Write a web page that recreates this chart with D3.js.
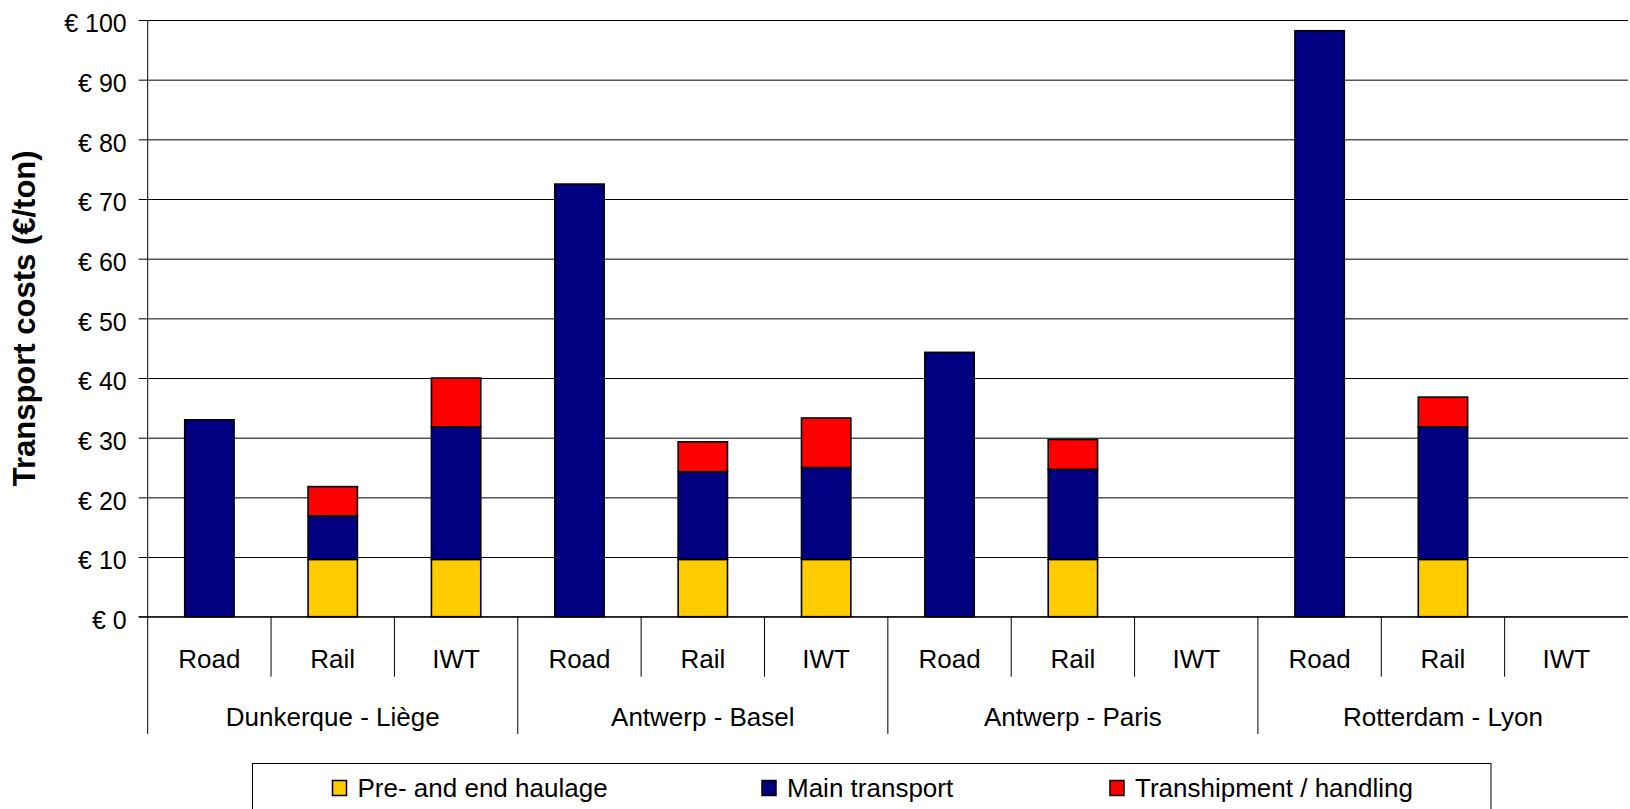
<!DOCTYPE html>
<html>
<head>
<meta charset="utf-8">
<script src="https://cdn.jsdelivr.net/npm/d3@7"></script>
<style>
  body { margin: 0; background: #fff; }
  svg { display: block; font-family: "Liberation Sans", Arial, sans-serif; }
</style>
</head>
<body>
<svg id="chart" width="1630" height="809"></svg>
<script>
// data
var groups = ["Dunkerque - Liège", "Antwerp - Basel", "Antwerp - Paris", "Rotterdam - Lyon"];
var modes = ["Road", "Rail", "IWT"];
var seriesNames = ["Pre- and end haulage", "Main transport", "Transhipment / handling"];
var seriesColors = ["#FFCC00", "#000080", "#FF0000"];
var preEnd       = [0, 9.6, 9.6, 0, 9.6, 9.6, 0, 9.6, 0, 0, 9.6, 0];
var mainTransport = [33, 7.3, 22.2, 72.5, 14.7, 15.4, 44.3, 15.1, 0, 98.2, 22.2, 0];
var transhipment = [0, 4.9, 8.2, 0, 5.0, 8.3, 0, 5.0, 0, 0, 5.0, 0];
var yTicks = [0, 10, 20, 30, 40, 50, 60, 70, 80, 90, 100];
var yLabel = "Transport costs (€/ton)";

var svg = d3.select("#chart");
var plotLeft = 147.7, plotRight = 1628, plotTop = 20, plotBottom = 616.7;

// one row per bar (group x mode)
var rows = [];
groups.forEach(function (g, gi) {
    modes.forEach(function (m, mi) {
        var i = gi * 3 + mi;
        rows.push({ idx: i, group: g, mode: m, s0: preEnd[i], s1: mainTransport[i], s2: transhipment[i] });
    });
});

var x = d3.scaleBand().domain(rows.map(function (d) { return d.idx; })).range([plotLeft, plotRight]).padding(0);
var y = d3.scaleLinear().domain([0, 100]).range([plotBottom, plotTop]);
var bw = x.bandwidth();

// gridlines
svg.append("g")
    .attr("transform", "translate(" + plotLeft + ",0)")
    .call(d3.axisLeft(y).tickValues(yTicks).tickSize(-(plotRight - plotLeft)).tickFormat(""))
    .call(function (g) { g.select(".domain").remove(); })
    .selectAll("line").attr("stroke", "#000").attr("stroke-width", 1);

// stacked bars
var stack = d3.stack().keys(["s0", "s1", "s2"]);
var layers = stack(rows);
svg.append("g").selectAll("g")
    .data(layers)
    .enter().append("g")
    .attr("fill", function (d, i) { return seriesColors[i]; })
    .selectAll("rect")
    .data(function (d) { return d.filter(function (p) { return p[1] - p[0] > 0; }); })
    .enter().append("rect")
    .attr("x", function (d) { return x(d.data.idx) + bw * 0.3; })
    .attr("width", bw * 0.4)
    .attr("y", function (d) { return y(d[1]); })
    .attr("height", function (d) { return y(d[0]) - y(d[1]); })
    .attr("stroke", "#000")
    .attr("stroke-width", 1.6);

// y axis with euro labels
var yAxis = svg.append("g")
    .attr("transform", "translate(" + plotLeft + ",0)")
    .call(d3.axisLeft(y).tickValues(yTicks).tickSize(9).tickPadding(12)
        .tickFormat(function (d) { return "€ " + d; }));
yAxis.select(".domain").remove();
yAxis.selectAll("line").attr("stroke", "#000");
yAxis.selectAll("text")
    .attr("dy", "0.47em")
    .style("font-size", "25px")
    .style("font-family", "'Liberation Sans', Arial, sans-serif")
    .attr("fill", "#000");

// axis lines
svg.append("line").attr("x1", plotLeft).attr("x2", plotLeft).attr("y1", plotTop).attr("y2", 734).attr("stroke", "#000");
svg.append("line").attr("x1", plotLeft - 9).attr("x2", plotRight).attr("y1", plotBottom).attr("y2", plotBottom).attr("stroke", "#000");

// category dividers
svg.append("g").selectAll("line")
    .data(rows.slice(1))
    .enter().append("line")
    .attr("x1", function (d) { return x(d.idx); })
    .attr("x2", function (d) { return x(d.idx); })
    .attr("y1", plotBottom)
    .attr("y2", function (d) { return d.idx % 3 === 0 ? 734 : 676.7; })
    .attr("stroke", "#000");

// mode labels
svg.append("g").selectAll("text")
    .data(rows)
    .enter().append("text")
    .attr("x", function (d) { return x(d.idx) + bw / 2; })
    .attr("y", 668.3)
    .attr("text-anchor", "middle")
    .style("font-size", "26px")
    .text(function (d) { return d.mode; });

// group labels
svg.append("g").selectAll("text")
    .data(groups)
    .enter().append("text")
    .attr("x", function (d, i) { return x(i * 3) + bw * 1.5; })
    .attr("y", 726)
    .attr("text-anchor", "middle")
    .style("font-size", "26px")
    .text(function (d) { return d; });

// y axis title
svg.append("text")
    .attr("transform", "translate(35," + ((plotTop + plotBottom) / 2) + ") rotate(-90)")
    .attr("text-anchor", "middle")
    .style("font-size", "31px")
    .style("font-weight", "bold")
    .text(yLabel);

// legend
svg.append("rect")
    .attr("x", 252.5).attr("y", 763.5)
    .attr("width", 1238.5).attr("height", 60)
    .attr("fill", "#fff").attr("stroke", "#000");
var legendX = [332.5, 762, 1110];
var leg = svg.append("g").selectAll("g")
    .data(seriesNames)
    .enter().append("g")
    .attr("transform", function (d, i) { return "translate(" + legendX[i] + ",0)"; });
leg.append("rect")
    .attr("x", 0).attr("y", 780.5)
    .attr("width", 14).attr("height", 15)
    .attr("fill", function (d, i) { return seriesColors[i]; })
    .attr("stroke", "#000").attr("stroke-width", 1.5);
leg.append("text")
    .attr("x", 25).attr("y", 796.7)
    .style("font-size", "26px")
    .text(function (d) { return d; });
</script>
</body>
</html>
